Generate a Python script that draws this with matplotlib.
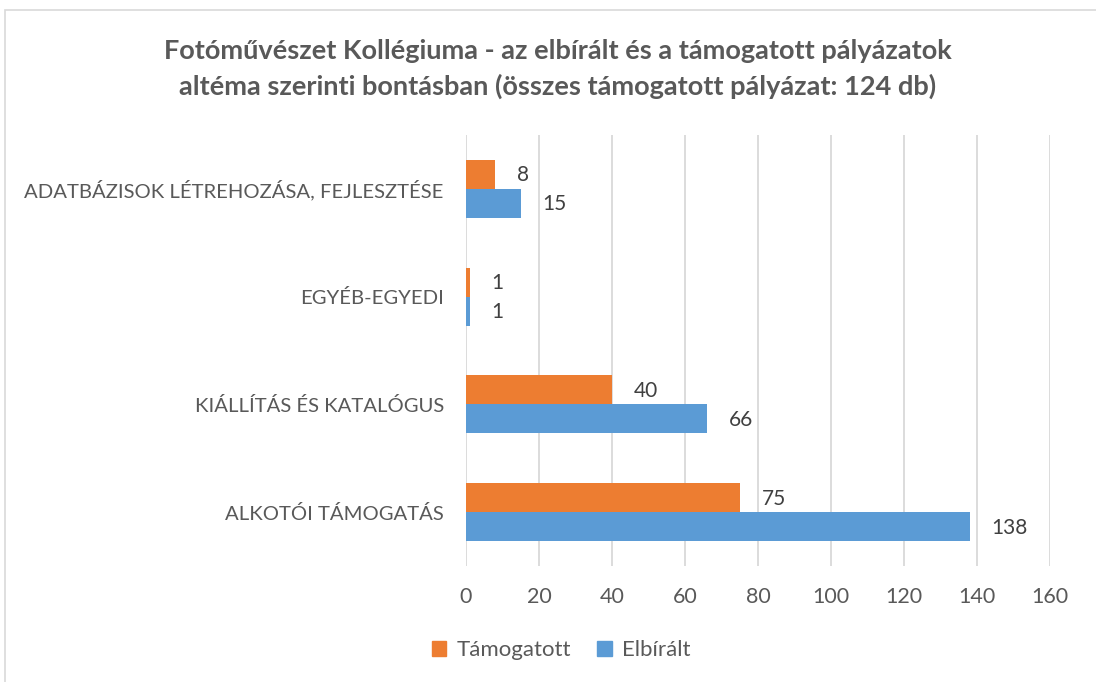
import matplotlib
matplotlib.use("Agg")
import matplotlib.pyplot as plt
from matplotlib.patches import Rectangle, Patch
import numpy as np

categories = ["ALKOTÓI TÁMOGATÁS", "KIÁLLÍTÁS ÉS KATALÓGUS", "EGYÉB-EGYEDI",
              "ADATBÁZISOK LÉTREHOZÁSA, FEJLESZTÉSE"]
tamogatott = [75, 40, 1, 8]
elbiralt = [138, 66, 1, 15]
xticks = [0, 20, 40, 60, 80, 100, 120, 140, 160]
title = ("Fotóművészet Kollégiuma - az elbírált és a támogatott pályázatok\n"
         "altéma szerinti bontásban (összes támogatott pályázat: 124 db)")

plt.rcParams['font.family'] = ['Lato', 'DejaVu Sans']
TXT = "#595959"
ORANGE = "#ED7D31"
BLUE = "#5B9BD5"
GRID = "#D9D9D9"

fig = plt.figure(figsize=(10.96, 6.82), dpi=100)
fig.patches.append(Rectangle((5/1096, -0.05), 1.1, 1.05 - 10/682, transform=fig.transFigure,
                             fill=False, edgecolor=GRID, linewidth=1.2))
ax = fig.add_axes([466/1096, 1 - 566/682, (1050 - 466)/1096, (566 - 135)/682])

y = np.arange(len(categories))
h = 0.27
b1 = ax.barh(y + h/2, tamogatott, height=h, color=ORANGE, label="Támogatott", zorder=3)
b2 = ax.barh(y - h/2, elbiralt, height=h, color=BLUE, label="Elbírált", zorder=3)

for bars in (b1, b2):
    for r in bars:
        ax.annotate(f"{int(r.get_width())}", (r.get_width(), r.get_y() + r.get_height()/2),
                    xytext=(22, -1), textcoords="offset pixels",
                    va="center", ha="left", fontsize=15, color="#404040")

ax.set_xlim(0, 160)
ax.set_ylim(-0.5, 3.5)
ax.set_xticks(xticks)
ax.set_xticklabels([str(t) for t in xticks], fontsize=15.5, color=TXT)
ax.set_yticks(y)
ax.set_yticklabels(categories, fontsize=14.6, color=TXT)
ax.tick_params(axis='both', length=0)
ax.tick_params(axis='x', pad=15)
ax.tick_params(axis='y', pad=16)
ax.grid(axis='x', color=GRID, linewidth=1.3, zorder=0)
for s in ax.spines.values():
    s.set_visible(False)

fig.text(558/1096, 1 - 69/682, title, ha="center", va="center", fontsize=19.5,
         fontweight="bold", color=TXT, linespacing=1.55)

handles = [Patch(color=ORANGE, label="Támogatott"), Patch(color=BLUE, label="Elbírált")]
fig.legend(handles=handles, loc="center", bbox_to_anchor=(561/1096, 1 - 650/682), ncol=2,
           frameon=False, fontsize=16, labelcolor=TXT, handlelength=0.65, handleheight=0.65,
           handletextpad=0.45, columnspacing=1.2)

fig.savefig("out.png", dpi=100)
